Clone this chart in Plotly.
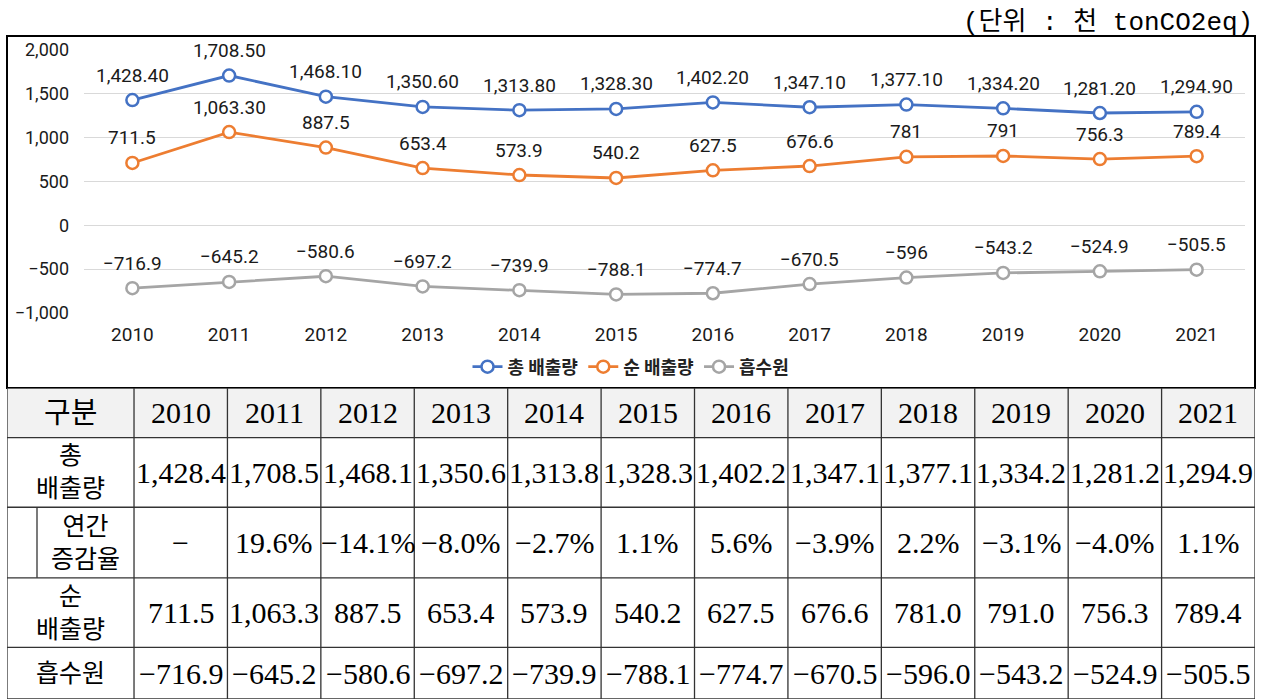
import plotly.graph_objects as go

W, H = 1262, 699

years = [2010, 2011, 2012, 2013, 2014, 2015, 2016, 2017, 2018, 2019, 2020, 2021]
total = [1428.4, 1708.5, 1468.1, 1350.6, 1313.8, 1328.3, 1402.2, 1347.1, 1377.1, 1334.2, 1281.2, 1294.9]
net = [711.5, 1063.3, 887.5, 653.4, 573.9, 540.2, 627.5, 676.6, 781.0, 791.0, 756.3, 789.4]
sink = [-716.9, -645.2, -580.6, -697.2, -739.9, -788.1, -774.7, -670.5, -596.0, -543.2, -524.9, -505.5]
growth = ["−", "19.6%", "−14.1%", "−8.0%", "−2.7%", "1.1%", "5.6%", "−3.9%", "2.2%", "−3.1%", "−4.0%", "1.1%"]

total_labels = ["1,428.40", "1,708.50", "1,468.10", "1,350.60", "1,313.80", "1,328.30",
                "1,402.20", "1,347.10", "1,377.10", "1,334.20", "1,281.20", "1,294.90"]
net_labels = ["711.5", "1,063.30", "887.5", "653.4", "573.9", "540.2",
              "627.5", "676.6", "781", "791", "756.3", "789.4"]
sink_labels = ["−716.9", "−645.2", "−580.6", "−697.2", "−739.9", "−788.1",
               "−774.7", "−670.5", "−596", "−543.2", "−524.9", "−505.5"]

y_tick_vals = [-1000, -500, 0, 500, 1000, 1500, 2000]
y_tick_text = ["−1,000", "−500", "0", "500", "1,000", "1,500", "2,000"]

series_names = ["총 배출량", "순 배출량", "흡수원"]
colors = ["#4472C4", "#ED7D31", "#A5A5A5"]
row_labels = ["총<br>배출량", "연간<br>증감율", "순<br>배출량", "흡수원"]
header_first = "구분"
unit_text = "(단위 : 천 tonCO2eq)"

# table geometry (style): column widths and row heights in table units
col_widths = [127] + [93.4] * 12
row_heights = [50, 70, 71, 70, 52]

SANS = "Roboto, 'Noto Sans CJK KR', sans-serif"
KSANS = "'Noto Sans CJK KR', Roboto, sans-serif"
SERIF = "'Liberation Serif', 'Noto Sans CJK KR', serif"
MONO = "'Liberation Mono', 'Noto Sans CJK KR', monospace"


def px(x):
    return x / W


def py(y):
    return 1 - y / H


fig = go.Figure()
for name, vals, labs, col in zip(series_names, [total, net, sink],
                                 [total_labels, net_labels, sink_labels], colors):
    fig.add_trace(go.Scatter(
        x=years, y=vals, name=name, mode="lines+markers",
        line=dict(color=col, width=2.8),
        marker=dict(symbol="circle", size=12, color="white", line=dict(color=col, width=2.5)),
        xaxis="x", yaxis="y", hoverinfo="x+y",
    ))
    for xv, yv, t in zip(years, vals, labs):
        fig.add_annotation(x=xv, y=yv, text=t, showarrow=False, yshift=25,
                           font=dict(family=SANS, size=19, color="#1a1a1a"))

# ---------- table drawn on its own axes ----------
xe = [0]
for w_ in col_widths:
    xe.append(xe[-1] + w_)
ye = [0]
for h_ in row_heights:
    ye.append(ye[-1] + h_)
xc = [(xe[i] + xe[i + 1]) / 2 for i in range(len(col_widths))]
yc = [(ye[i] + ye[i + 1]) / 2 for i in range(len(row_heights))]


def fmt(v):
    return f"{v:,.1f}".replace("-", "−")


table_rows = [
    [header_first] + [str(y) for y in years],
    [row_labels[0]] + [fmt(v) for v in total],
    [row_labels[1]] + growth,
    [row_labels[2]] + [fmt(v) for v in net],
    [row_labels[3]] + [fmt(v) for v in sink],
]

shapes = []
shapes.append(dict(type="rect", xref="x2", yref="y2", x0=xe[0], x1=xe[-1], y0=ye[0], y1=ye[1],
                   fillcolor="#f2f2f2", line=dict(width=0), layer="below"))
for yv in ye:
    shapes.append(dict(type="line", xref="x2", yref="y2", x0=xe[0], x1=xe[-1], y0=yv, y1=yv,
                       line=dict(color="#333", width=1.3)))
for xv in xe:
    shapes.append(dict(type="line", xref="x2", yref="y2", x0=xv, x1=xv, y0=ye[0], y1=ye[-1],
                       line=dict(color="#333", width=1.3)))
sub_x = 30
shapes.append(dict(type="line", xref="x2", yref="y2", x0=sub_x, x1=sub_x, y0=ye[2], y1=ye[3],
                   line=dict(color="#333", width=1.3)))

for r, row in enumerate(table_rows):
    for c, txt in enumerate(row):
        if c == 0:
            size = 29 if r == 0 else 25
            xpos = xc[0] if r != 2 else (sub_x + xe[1]) / 2
        else:
            size = 30
            xpos = xc[c]
        fig.add_annotation(x=xpos, y=yc[r], xref="x2", yref="y2", text=txt, showarrow=False,
                           xanchor="center", yanchor="middle",
                           font=dict(family=SERIF, size=size, color="black"))

fig.add_annotation(xref="paper", yref="paper", x=px(1255), y=py(22), xanchor="right",
                   yanchor="middle", text=unit_text, showarrow=False,
                   font=dict(family=MONO, size=26, color="black"))

shapes.append(dict(type="rect", xref="paper", yref="paper", x0=px(7), x1=px(1255), y0=py(388),
                   y1=py(36), line=dict(color="black", width=2), layer="below"))

fig.update_layout(
    width=W, height=H, autosize=False, margin=dict(l=0, r=0, t=0, b=0, pad=0),
    paper_bgcolor="white", plot_bgcolor="white",
    showlegend=True,
    legend=dict(orientation="h", x=0.5, xanchor="center", y=py(367), yanchor="middle",
                font=dict(family=KSANS, size=18, color="#222", weight="bold"),
                itemwidth=30, bgcolor="rgba(0,0,0,0)"),
    xaxis=dict(domain=[px(84), px(1245)], range=[2009.5, 2021.5], tickvals=years,
               showgrid=False, zeroline=False, showline=False, ticks="", automargin=False,
               tickfont=dict(family=SANS, size=19, color="#1a1a1a"), ticklabelstandoff=8),
    yaxis=dict(domain=[py(313), py(50)], range=[-1000, 2000],
               tickvals=y_tick_vals, ticktext=y_tick_text,
               showgrid=True, gridcolor="#d9d9d9", gridwidth=1,
               zeroline=False, showline=False, ticks="", automargin=False,
               tickfont=dict(family=SANS, size=18, color="#1a1a1a"), ticklabelstandoff=14),
    xaxis2=dict(domain=[px(7), px(1255)], range=[0, xe[-1]], visible=False, fixedrange=True,
                automargin=False),
    yaxis2=dict(domain=[0, py(388)], range=[ye[-1], 0], visible=False, fixedrange=True,
                automargin=False),
    shapes=shapes,
)

fig.write_html("out.html", config={"displayModeBar": False, "responsive": False},
               post_script="document.body.style.margin='0px';")
